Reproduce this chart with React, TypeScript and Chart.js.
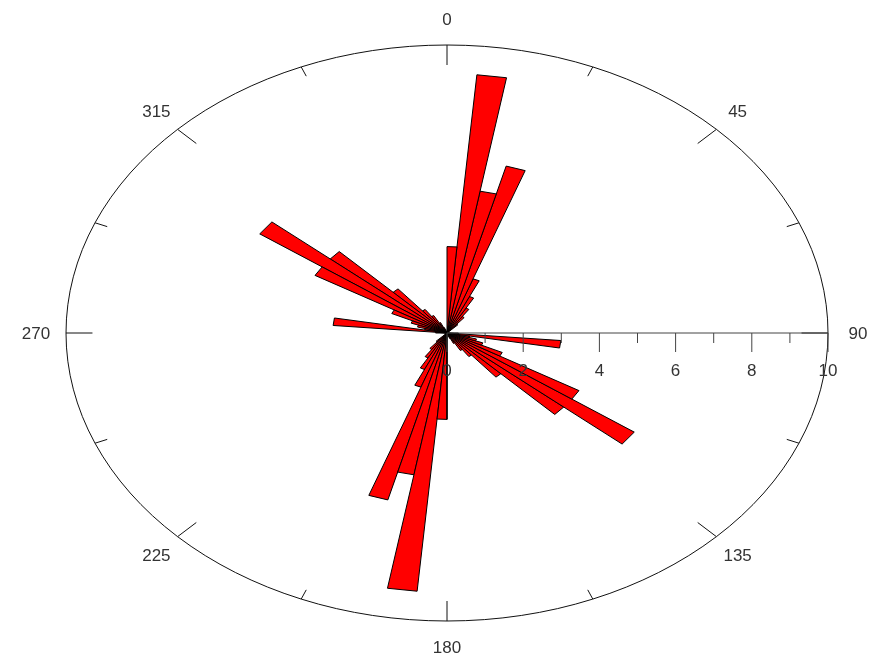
import React, { useEffect, useRef } from "react";
import { Chart, registerables } from "chart.js";

Chart.register(...registerables);

// Rose diagram: 5-degree bins (start angle, clockwise from north) and petal lengths
const BIN_WIDTH = 5;
const BIN_STARTS = [
  0, 5, 10, 15, 20, 25, 30, 35, 40, 45, 50, 55, 60, 65, 70, 75, 80, 85,
  90, 95, 100, 105, 110, 115, 120, 125, 130, 135, 140, 145, 150, 155, 160, 165, 170, 175,
  180, 185, 190, 195, 200, 205, 210, 215, 220, 225, 230, 235, 240, 245, 250, 255, 260, 265,
  270, 275, 280, 285, 290, 295, 300, 305, 310, 315, 320, 325, 330, 335, 340, 345, 350, 355,
];
const BIN_VALUES = [
  3, 9, 5, 6, 2, 1.4, 1, 0.7, 0.4, 0, 0, 0, 0, 0, 0, 0, 0, 0,
  0.3, 3, 0.6, 0.8, 1, 1.6, 4, 6, 4, 2, 1, 0.7, 0.4, 0.2, 0, 0, 0, 0,
  3, 9, 5, 6, 2, 1.4, 1, 0.7, 0.4, 0, 0, 0, 0, 0, 0, 0, 0, 0,
  0.3, 3, 0.6, 0.8, 1, 1.6, 4, 6, 4, 2, 1, 0.7, 0.4, 0.2, 0, 0, 0, 0,
];

const R_MAX = 10;
const RADIAL_TICKS = [0, 1, 2, 3, 4, 5, 6, 7, 8, 9, 10];
const RADIAL_LABELS = ["0", "", "2", "", "4", "", "6", "", "8", "", "10"];
const COMPASS_TICKS = [0, 22.5, 45, 67.5, 90, 112.5, 135, 157.5, 180, 202.5, 225, 247.5, 270, 292.5, 315, 337.5];
const COMPASS_LABELS = [0, 45, 90, 135, 180, 225, 270, 315];

const rad = (d: number) => (d * Math.PI) / 180;

const frame = {
  id: "roseFrame",
  afterDatasetsDraw(chart: any) {
    const { ctx, scales } = chart;
    const xs = scales.x;
    const ys = scales.y;
    const px = (r: number, a: number) => xs.getPixelForValue(r * Math.sin(rad(a)));
    const py = (r: number, a: number) => ys.getPixelForValue(r * Math.cos(rad(a)));
    const cx = xs.getPixelForValue(0);
    const cy = ys.getPixelForValue(0);
    const rx = xs.getPixelForValue(R_MAX) - cx;
    const ry = cy - ys.getPixelForValue(R_MAX);
    ctx.save();
    // outer ellipse
    ctx.strokeStyle = "#111";
    ctx.lineWidth = 1;
    ctx.beginPath();
    ctx.ellipse(cx, cy, rx, ry, 0, 0, Math.PI * 2);
    ctx.stroke();
    // compass ticks
    COMPASS_TICKS.forEach((a) => {
      const major = COMPASS_LABELS.includes(a);
      const inner = R_MAX * (major ? 1 - 20 / 288 : 1 - 10 / 288);
      ctx.beginPath();
      ctx.moveTo(px(R_MAX, a), py(R_MAX, a));
      ctx.lineTo(px(inner, a), py(inner, a));
      ctx.stroke();
    });
    // compass labels
    ctx.fillStyle = "#333";
    ctx.font = '17px "Liberation Sans", Arial, sans-serif';
    ctx.textAlign = "center";
    ctx.textBaseline = "middle";
    COMPASS_LABELS.forEach((a) => {
      const lx = cx + (rx + 30) * Math.sin(rad(a));
      const ly = cy - (ry + 26) * Math.cos(rad(a));
      ctx.fillText(String(a), lx, ly + 1);
    });
    // radial axis
    ctx.strokeStyle = "#444";
    ctx.beginPath();
    ctx.moveTo(cx, cy);
    ctx.lineTo(xs.getPixelForValue(R_MAX), cy);
    ctx.stroke();
    RADIAL_TICKS.forEach((v, i) => {
      const tx = xs.getPixelForValue(v);
      const len = RADIAL_LABELS[i] ? 19 : 10;
      ctx.beginPath();
      ctx.moveTo(tx, cy);
      ctx.lineTo(tx, cy + len);
      ctx.stroke();
      if (RADIAL_LABELS[i]) ctx.fillText(RADIAL_LABELS[i], tx, cy + 38);
    });
    ctx.restore();
  },
};

export default function App() {
  const ref = useRef<HTMLCanvasElement>(null);
  useEffect(() => {
    const datasets: any[] = [];
    BIN_STARTS.forEach((a0, i) => {
      const r = BIN_VALUES[i];
      if (!r) return;
      const a1 = a0 + BIN_WIDTH;
      datasets.push({
        data: [
          { x: 0, y: 0 },
          { x: r * Math.sin(rad(a0)), y: r * Math.cos(rad(a0)) },
          { x: r * Math.sin(rad(a1)), y: r * Math.cos(rad(a1)) },
          { x: 0, y: 0 },
        ],
        showLine: true,
        fill: "shape",
        backgroundColor: "#ff0000",
        borderColor: "#000",
        borderWidth: 1,
        pointRadius: 0,
        tension: 0,
      });
    });
    const chart = new Chart(ref.current!, {
      type: "scatter",
      data: { datasets },
      plugins: [frame],
      options: {
        animation: false,
        responsive: false,
        layout: { padding: { left: 66, right: 44, top: 45, bottom: 32 } },
        scales: {
          x: { type: "linear", min: -R_MAX, max: R_MAX, display: false },
          y: { type: "linear", min: -R_MAX, max: R_MAX, display: false },
        },
        plugins: { legend: { display: false }, tooltip: { enabled: false } },
      },
    });
    return () => chart.destroy();
  }, []);
  return (
    <div style={{ position: "fixed", left: 0, top: 0, width: 872, height: 653, background: "#fff" }}>
      <canvas ref={ref} width={872} height={653} style={{ display: "block" }} />
    </div>
  );
}
